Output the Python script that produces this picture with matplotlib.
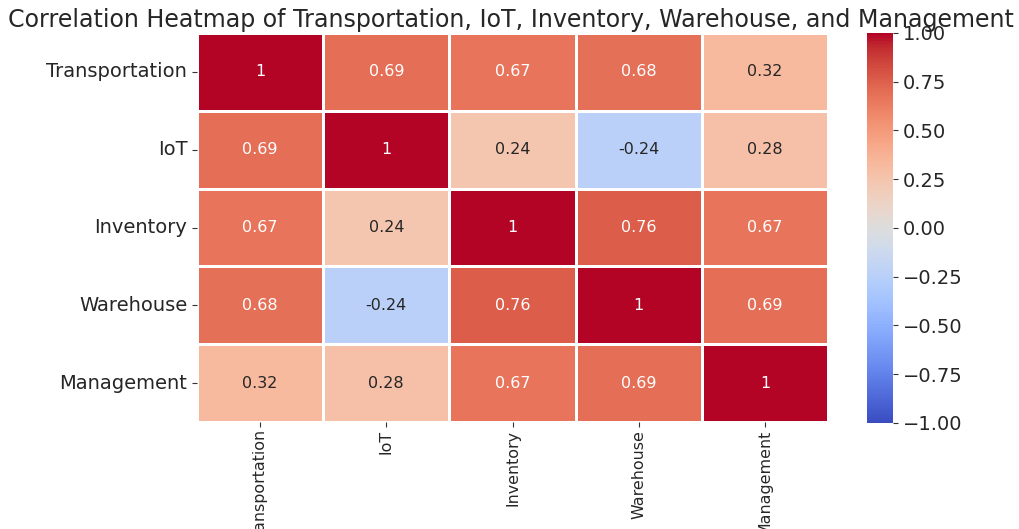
import matplotlib
matplotlib.use("Agg")
import matplotlib.pyplot as plt
import numpy as np
import pandas as pd
import seaborn as sns

labels = ["Transportation", "IoT", "Inventory", "Warehouse", "Management"]
row_transportation = [1.00, 0.69, 0.67, 0.68, 0.32]
row_iot = [0.69, 1.00, 0.24, -0.24, 0.28]
row_inventory = [0.67, 0.24, 1.00, 0.76, 0.67]
row_warehouse = [0.68, -0.24, 0.76, 1.00, 0.69]
row_management = [0.32, 0.28, 0.67, 0.69, 1.00]
title = "Correlation Heatmap of Transportation, IoT, Inventory, Warehouse, and Management"
cbar_ticks = [-1.0, -0.75, -0.5, -0.25, 0.0, 0.25, 0.5, 0.75, 1.0]

corr = pd.DataFrame([row_transportation, row_iot, row_inventory, row_warehouse, row_management],
                    index=labels, columns=labels)

W, H = 1020, 529
fig = plt.figure(figsize=(W / 100, H / 100), dpi=100)
ax = fig.add_axes([197 / W, 1 - 422 / H, (828 - 197) / W, (422 - 33) / H])
cax = fig.add_axes([867 / W, 1 - 423 / H, (893 - 867) / W, (423 - 33) / H])

sns.heatmap(corr, ax=ax, cbar_ax=cax, annot=True, cmap="coolwarm", vmin=-1, vmax=1,
            linewidths=1, linecolor="white", annot_kws={"fontsize": 11.5})

ax.tick_params(axis="both", colors="#333333", labelcolor="#262626")
ax.tick_params(axis="y", labelsize=14)
ax.tick_params(axis="x", labelsize=11.4, pad=2)
ax.set_xticklabels(labels, rotation=90)
ax.set_yticklabels(labels, rotation=0)
cax.set_yticks(cbar_ticks)
cax.set_yticklabels([f"{t:.2f}".replace("-", "\u2212") for t in cbar_ticks])
cax.tick_params(labelsize=14, labelcolor="#262626", colors="#333333")
for s in cax.spines.values():
    s.set_visible(False)

fig.text(511 / W, 1 - 27 / H, title, ha="center", va="baseline", fontsize=17.1,
         color="#262626")

fig.savefig("out.png", dpi=100)
